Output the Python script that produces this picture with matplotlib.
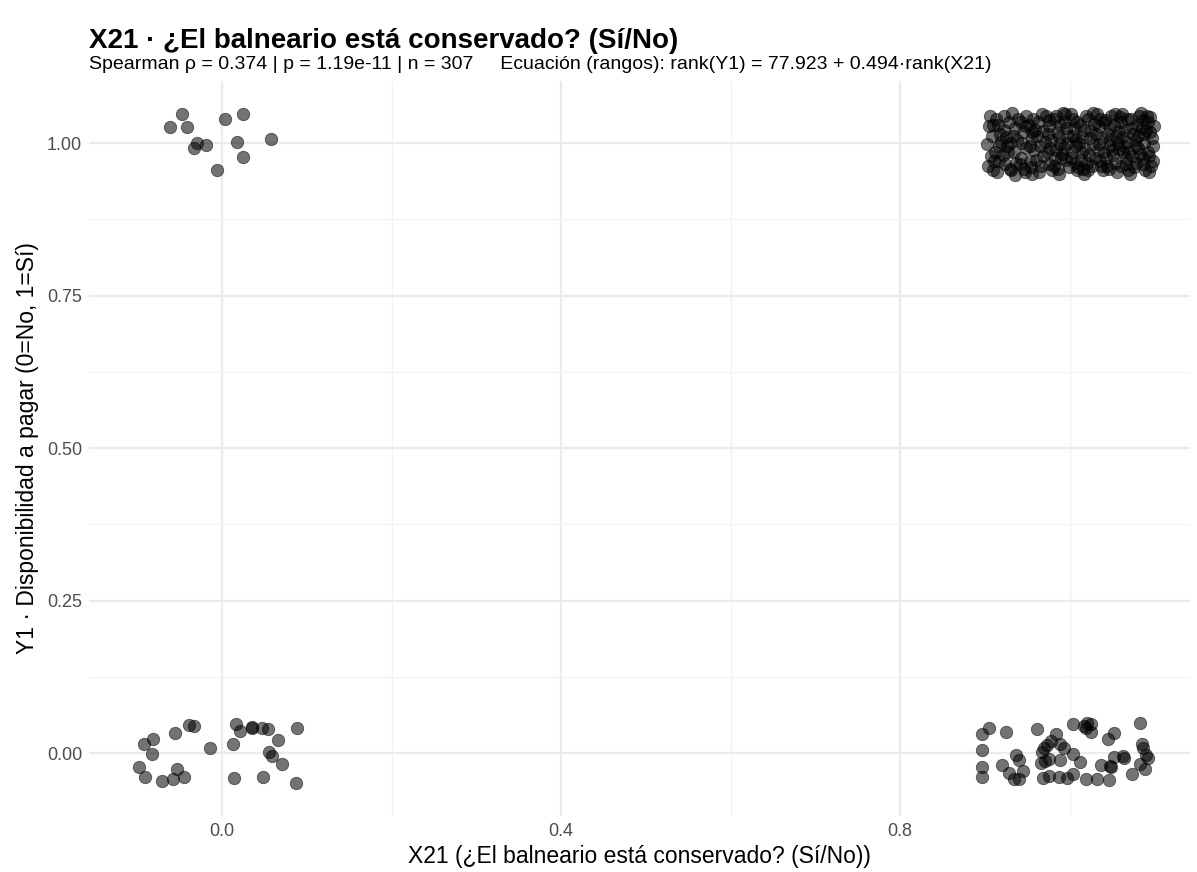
import matplotlib
matplotlib.use("Agg")
import matplotlib.pyplot as plt
import numpy as np

plt.rcParams['font.family'] = ['Liberation Sans', 'DejaVu Sans']

# jittered points, grouped by cell (x21, y1)
no_si_x = [-0.0476, -0.0614, -0.0417, -0.0299, -0.0330, -0.0192, -0.0063, 0.0035, 0.0244, 0.0181, 0.0251, 0.0575]
no_si_y = [1.0475, 1.0257, 1.0257, 1.0005, 0.9923, 0.9967, 0.9557, 1.0389, 1.0475, 1.0011, 0.9766, 1.0061]

no_no_x = [-0.0389, -0.0330, -0.0555, -0.0810, -0.0917, -0.0822, -0.0975, -0.0905, -0.0712, -0.0574,
           -0.0527, -0.0444, -0.0142, 0.0165, 0.0212, 0.0350, 0.0350, 0.0468, 0.0547, 0.0881,
           0.0134, 0.0665, 0.0555, 0.0594, 0.0704, 0.0138, 0.0488, 0.0869]
no_no_y = [0.0459, 0.0448, 0.0322, 0.0224, 0.0148, -0.0016, -0.0224, -0.0393, -0.0454, -0.0432,
           -0.0268, -0.0399, 0.0077, 0.0470, 0.0361, 0.0415, 0.0420, 0.0404, 0.0393, 0.0415,
           0.0148, 0.0208, 0.0021, -0.0049, -0.0186, -0.0415, -0.0388, -0.0486]

si_no_x = [0.9042, 0.8971, 0.9243, 0.9613, 0.8971, 0.8971, 0.8971, 0.9196, 0.9365, 0.9400,
           0.9286, 0.9337, 0.9396, 0.9448, 0.9841, 0.9778, 0.9731, 0.9691, 0.9672, 0.9880,
           0.9927, 0.9667, 0.9711, 0.9754, 0.9888, 0.9684, 0.9750, 0.9868, 0.9967,
           1.0038, 1.0163, 1.0203, 1.0250, 1.0191, 1.0254, 1.0517, 1.0446, 1.0832, 1.0852,
           1.0864, 1.0903, 1.0918, 1.0038, 1.0124, 1.0525, 1.0623, 1.0635, 1.0368, 1.0470,
           1.0486, 1.0832, 1.0891, 1.0737, 1.0038, 1.0195, 1.0321, 1.0466]
si_no_y = [0.0404, 0.0306, 0.0339, 0.0393, 0.0049, -0.0235, -0.0399, -0.0202, -0.0033, -0.0120,
           -0.0333, -0.0432, -0.0426, -0.0300, 0.0306, 0.0197, 0.0131, 0.0077, 0.0021, 0.0143,
           0.0077, -0.0169, -0.0131, -0.0098, -0.0115, -0.0415, -0.0377, -0.0388, -0.0405,
           0.0475, 0.0448, 0.0486, 0.0475, 0.0415, 0.0350, 0.0322, 0.0224, 0.0486, 0.0143,
           0.0077, -0.0033, -0.0077, -0.0022, -0.0142, -0.0071, -0.0044, -0.0077, -0.0202, -0.0213,
           -0.0230, -0.0186, -0.0262, -0.0344, -0.0350, -0.0426, -0.0426, -0.0443]

# dense cell (1, 1): offsets from the centre, estimated band by band
si_si_dx = [
    -0.095, -0.092, -0.097, -0.093, -0.096, -0.090, -0.091,
    -0.085, -0.082, -0.088, -0.083, -0.086, -0.081, -0.087,
    -0.078, -0.074, -0.076, -0.071, -0.079, -0.072, -0.075,
    -0.068, -0.065, -0.062, -0.066, -0.063, -0.069, -0.061, -0.064,
    -0.058, -0.055, -0.052, -0.057, -0.054, -0.051, -0.056, -0.053,
    -0.048, -0.045, -0.042, -0.047, -0.044, -0.041, -0.046, -0.043,
    -0.038, -0.035, -0.032, -0.037, -0.034, -0.031, -0.036,
    -0.028, -0.025, -0.022, -0.027, -0.024, -0.021, -0.026, -0.023,
    -0.018, -0.015, -0.012, -0.017, -0.014, -0.011, -0.016, -0.013,
    -0.008, -0.005, -0.002, -0.007, -0.004, -0.001, -0.006, -0.003, -0.009,
    0.002, 0.005, 0.008, 0.003, 0.006, 0.009, 0.004, 0.007,
    0.012, 0.015, 0.018, 0.013, 0.016, 0.019, 0.011, 0.017,
    0.022, 0.025, 0.028, 0.023, 0.026, 0.029, 0.021,
    0.032, 0.035, 0.038, 0.033, 0.036, 0.039, 0.031, 0.037,
    0.042, 0.045, 0.048, 0.043, 0.046, 0.049, 0.041, 0.047,
    0.052, 0.055, 0.058, 0.053, 0.056, 0.059, 0.051, 0.057,
    0.062, 0.065, 0.068, 0.063, 0.066, 0.069, 0.061, 0.067,
    0.072, 0.075, 0.078, 0.073, 0.076, 0.079, 0.071, 0.077,
    0.082, 0.085, 0.088, 0.083, 0.086, 0.089, 0.081, 0.087,
    0.092, 0.095, 0.098, 0.093, 0.096, 0.091, 0.094, 0.097,
    -0.094, -0.089, -0.083, -0.077, -0.073, -0.067, -0.059, -0.052, -0.047, -0.040,
    -0.033, -0.029, -0.024, -0.019, -0.013, -0.010, -0.004, 0.001, 0.004, 0.009,
    0.014, 0.017, 0.020, 0.024, 0.027, 0.030, 0.034, 0.040, 0.044, 0.047,
    0.050, 0.054, 0.058, 0.060, 0.064, 0.068, 0.070, 0.074, 0.078, 0.080,
    0.084, 0.086, 0.090, 0.092, 0.095, 0.098, 0.099, 0.088, 0.062, 0.036,
    0.010, -0.016, -0.044, -0.070]
si_si_y = [
    1.028, 1.012, 0.998, 0.978, 0.962, 1.030, 0.955,
    1.030, 1.015, 0.985, 0.970, 0.952, 1.002, 1.040,
    1.022, 0.995, 0.965, 0.958, 0.980, 1.035, 1.010,
    1.050, 1.025, 1.005, 0.985, 0.968, 0.955, 1.040, 0.948,
    1.035, 1.018, 0.992, 0.975, 0.958, 1.045, 1.000, 0.952,
    1.030, 1.008, 0.988, 0.970, 0.950, 1.022, 0.960, 1.040,
    1.012, 0.995, 0.978, 1.035, 0.962, 1.020, 0.952,
    1.045, 1.028, 1.005, 0.985, 0.965, 0.955, 1.015, 0.992,
    1.040, 1.018, 0.998, 0.975, 0.958, 1.030, 0.988, 0.950,
    1.050, 1.035, 1.012, 0.992, 0.972, 0.960, 1.048, 1.000, 0.982,
    1.048, 1.025, 1.005, 0.985, 0.968, 0.955, 1.040, 0.995,
    1.030, 1.010, 0.990, 0.972, 0.958, 1.045, 1.000, 0.950,
    1.040, 1.020, 0.998, 0.980, 0.962, 1.032, 0.955,
    1.048, 1.028, 1.008, 0.988, 0.970, 0.955, 1.015, 0.962,
    1.038, 1.015, 0.995, 0.975, 0.958, 1.045, 0.985, 1.025,
    1.030, 1.010, 0.990, 0.968, 0.952, 1.042, 0.980, 1.000,
    1.048, 1.022, 1.002, 0.985, 0.965, 0.955, 1.035, 0.975,
    1.040, 1.015, 0.995, 0.978, 0.960, 1.030, 0.950, 1.005,
    1.045, 1.025, 1.000, 0.982, 0.965, 0.955, 1.012, 1.038,
    1.035, 1.018, 0.995, 0.978, 0.962, 1.045, 0.952, 1.008,
    1.045, 0.970, 0.995, 1.045, 0.985, 1.012, 0.965, 1.028, 0.995, 0.972,
    1.048, 1.002, 1.038, 0.962, 1.010, 0.975, 1.025, 0.975, 1.012, 1.035,
    0.985, 1.022, 0.968, 1.008, 1.050, 0.975, 0.998, 1.035, 0.962, 1.005,
    0.988, 1.048, 1.020, 0.962, 0.995, 1.040, 0.985, 1.025, 0.968, 0.992,
    1.050, 0.975, 1.022, 0.985, 1.042, 0.970, 1.028, 1.015, 1.010, 1.040,
    0.960, 1.045, 1.018, 1.000]

title = "X21 · ¿El balneario está conservado? (Sí/No)"
subtitle = "Spearman ρ = 0.374 | p = 1.19e-11 | n = 307     Ecuación (rangos): rank(Y1) = 77.923 + 0.494·rank(X21)"
xlabel = "X21 (¿El balneario está conservado? (Sí/No))"
ylabel = "Y1 · Disponibilidad a pagar (0=No, 1=Sí)"

x = np.concatenate([no_si_x, no_no_x, si_no_x, 1 + np.array(si_si_dx)])
y = np.concatenate([no_si_y, no_no_y, si_no_y, si_si_y])

fig = plt.figure(figsize=(11.97, 8.72), dpi=100)
ax = fig.add_axes([0.0744, 0.0644, 0.9198, 0.8429])

ax.scatter(x, y, s=80, color='black', alpha=0.55, edgecolors='black', linewidths=0.6, zorder=3)

ax.set_xlim(-0.157, 1.142)
ax.set_ylim(-0.103, 1.102)
ax.set_xticks([0.0, 0.4, 0.8])
ax.set_xticklabels(["0.0", "0.4", "0.8"])
ax.set_xticks([0.2, 0.6, 1.0], minor=True)
ax.set_yticks([0.0, 0.25, 0.5, 0.75, 1.0])
ax.set_yticklabels(["0.00", "0.25", "0.50", "0.75", "1.00"])
ax.set_yticks([0.125, 0.375, 0.625, 0.875], minor=True)

ax.grid(True, which='major', color='#EBEBEB', linewidth=1.6, zorder=0)
ax.grid(True, which='minor', color='#F2F2F2', linewidth=1.0, zorder=0)
for s in ax.spines.values():
    s.set_visible(False)
ax.tick_params(which='both', length=0)
ax.tick_params(axis='both', labelsize=13, labelcolor='#4D4D4D', pad=5)

ax.set_xlabel(xlabel, fontsize=16.5, labelpad=4)
ax.set_ylabel(ylabel, fontsize=16.5, labelpad=6)

fig.text(0.0744, 1 - 48 / 872, title, fontsize=20, fontweight='bold', va='baseline')
fig.text(0.0744, 1 - 69 / 872, subtitle, fontsize=14, va='baseline')

plt.savefig("out.png", dpi=100)
